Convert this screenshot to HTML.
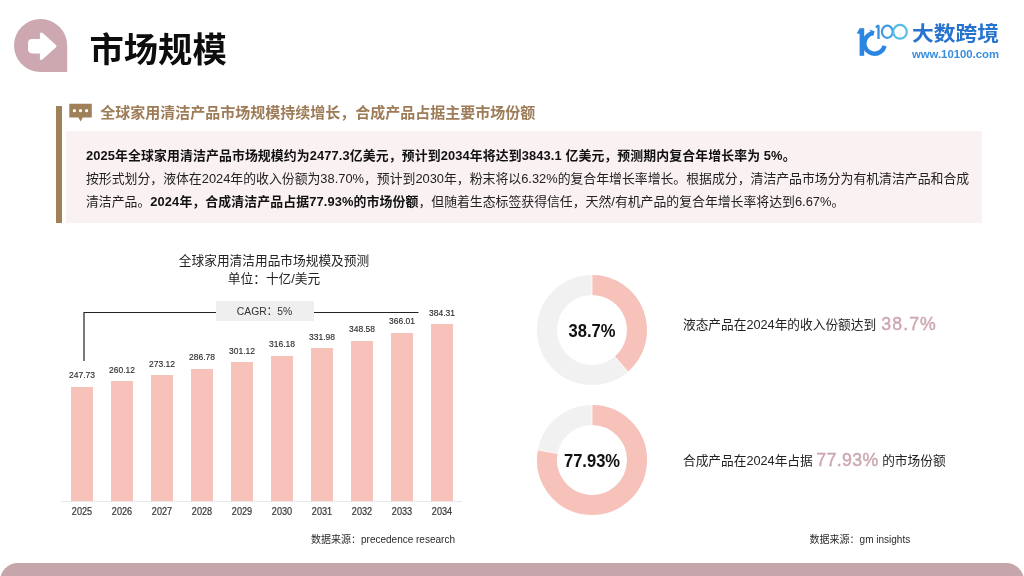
<!DOCTYPE html>
<html lang="zh-CN">
<head>
<meta charset="utf-8">
<title>市场规模</title>
<style>
  html, body { margin: 0; padding: 0; }
  body {
    width: 1024px; height: 576px; overflow: hidden; position: relative;
    background: #ffffff;
    font-family: "Liberation Sans", "Noto Sans CJK SC", sans-serif;
    color: #222;
  }
  .abs { position: absolute; white-space: nowrap; }
  #title { left: 89.5px; top: 25px; font-size: 34.3px; line-height: 50px; font-weight: 700; color: #0d0d0d; letter-spacing: 0px; }
  #bar-left { left: 56px; top: 105.8px; width: 6.2px; height: 116.8px; background: #a08058; }
  #subtitle { left: 100.3px; top: 101px; font-size: 15px; line-height: 24px; font-weight: 700; color: #9d7c57; }
  #box { left: 66px; top: 131px; width: 916px; height: 91.5px; background: #f9f1f2; }
  #box p { position: absolute; left: 20px; margin: 0; font-size: 12.87px; line-height: 23px; white-space: nowrap; color: #222; }
  #box b { font-weight: 700; color: #111; letter-spacing: 0.12px; }
  #chart-title { left: 74px; width: 400px; top: 251.5px; text-align: center; font-size: 12.7px; line-height: 18.3px; color: #222; }
  .bar { position: absolute; width: 22px; background: #f7c2ba; }
  .val { position: absolute; width: 50px; text-align: center; font-size: 9.6px; line-height: 12px; color: #2e2e2e; transform: scaleX(0.885); -webkit-text-stroke: 0.15px #2e2e2e; }
  .yr { position: absolute; width: 50px; text-align: center; font-size: 10.3px; line-height: 12px; top: 505.8px; color: #333; transform: scaleX(0.885); -webkit-text-stroke: 0.2px #333; }
  #cagr { left: 216px; top: 300.5px; width: 97.5px; height: 20.7px; background: #efefef; text-align: center; font-size: 11.8px; line-height: 21.5px; color: #333; }
  #cagr span { display: inline-block; transform: scaleX(0.88); }
  .src { font-size: 10px; line-height: 14px; color: #2a2a2a; }
  .dlabel { font-size: 17.6px; font-weight: 700; color: #111; text-align: center; width: 110px; line-height: 24px; transform: scaleX(0.94); }
  .rtext { font-size: 12.7px; line-height: 24px; color: #222; }
  .hl { font-size: 17.7px; color: #cca7b0; letter-spacing: 0.4px; position: relative; top: 0.8px; -webkit-text-stroke: 0.45px #cca7b0; }
  #band { left: 0; top: 562.6px; width: 1024px; height: 30px; background: #c6a5ab; border-radius: 18px 18px 0 0; }
</style>
</head>
<body>

<!-- title icon -->
<svg class="abs" style="left:13px;top:18px" width="56" height="56" viewBox="0 0 56 56">
  <path d="M27.5 1 A26.5 26.5 0 1 0 27.5 54 L54.2 54 L54.2 27.5 A26.5 26.5 0 0 0 27.5 1 Z" fill="#cda8b0"/>
  <path d="M19.3 22.5 H28.4 V15.9 L42 28.2 L28.4 40.5 V33.9 H19.3 Q16.5 33.9 16.5 31.1 V25.3 Q16.5 22.5 19.3 22.5 Z" fill="#ffffff" stroke="#ffffff" stroke-width="3" stroke-linejoin="round"/>
</svg>
<div id="title" class="abs">市场规模</div>

<!-- logo -->
<svg class="abs" style="left:852px;top:16px" width="160" height="52" viewBox="0 0 160 52">
  <g fill="none" stroke-linecap="butt">
    <path d="M9.9 39.8 V12.4" stroke="#2b86e2" stroke-width="4.6"/>
    <path d="M12.2 12.4 L7.6 12.4 L4.6 17.4 L8.4 17.8 Z" fill="#2b86e2" stroke="none"/>
    <path d="M21.52 17.16 A10.3 10.3 0 1 0 32.59 29.89" stroke="#2b86e2" stroke-width="4.4"/>
    <path d="M17.2 13.6 L22.6 15.2 L21.2 19.6 Z" fill="#2b86e2" stroke="none"/>
    <path d="M23.8 11.2 L26.5 9.6 L26.5 23" stroke="#3a90e0" stroke-width="2.3" stroke-linejoin="bevel"/>
    <ellipse cx="35.3" cy="15.8" rx="5.4" ry="6.1" stroke="#3f9ae2" stroke-width="2.2"/>
    <ellipse cx="48" cy="15.8" rx="6.8" ry="6.9" stroke="#55bde6" stroke-width="2.2"/>
  </g>
  <text x="60" y="25" font-family="'Liberation Sans','Noto Sans CJK SC',sans-serif" font-weight="700" font-size="20.6" fill="#2673d0" textLength="87" lengthAdjust="spacingAndGlyphs">大数跨境</text>
  <text x="60" y="42" font-family="'Liberation Sans','Noto Sans CJK SC',sans-serif" font-weight="700" font-size="11.5" fill="#3a8ddc" textLength="87" lengthAdjust="spacingAndGlyphs">www.10100.com</text>
</svg>

<!-- subtitle -->
<div id="bar-left" class="abs"></div>
<svg class="abs" style="left:69px;top:103px" width="24" height="19" viewBox="0 0 24 19">
  <path d="M0.3 0.8 H22.8 V14.6 H13.8 L11.6 18.5 L9.4 14.6 H0.3 Z" fill="#a08058"/>
  <circle cx="5.4" cy="7.7" r="1.6" fill="#fff"/>
  <circle cx="11.5" cy="7.7" r="1.6" fill="#fff"/>
  <circle cx="17.6" cy="7.7" r="1.6" fill="#fff"/>
</svg>
<div id="subtitle" class="abs">全球家用清洁产品市场规模持续增长，合成产品占据主要市场份额</div>

<!-- text box -->
<div id="box" class="abs">
  <p style="top:12.6px"><b>2025年全球家用清洁产品市场规模约为2477.3亿美元，预计到2034年将达到3843.1 亿美元，预测期内复合年增长率为 5%。</b></p>
  <p style="top:35.9px">按形式划分，液体在2024年的收入份额为38.70%，预计到2030年，粉末将以6.32%的复合年增长率增长。根据成分，清洁产品市场分为有机清洁产品和合成</p>
  <p style="top:58.9px">清洁产品。<b>2024年，合成清洁产品占据77.93%的市场份额</b>，但随着生态标签获得信任，天然/有机产品的复合年增长率将达到6.67%。</p>
</div>

<!-- chart -->
<div id="chart-title" class="abs">全球家用清洁用品市场规模及预测<br>单位：十亿/美元</div>
<div id="chart">
<div class="abs" style="left:61px;top:501px;width:401px;height:1px;background:#e9e9e9"></div>
<svg class="abs" style="left:80px;top:308px" width="345" height="56" viewBox="0 0 345 56"><path d="M4 53 V4.5 H136" fill="none" stroke="#222" stroke-width="1.2"/><path d="M233.5 4.5 H338.5" fill="none" stroke="#222" stroke-width="1.2"/></svg>
<div id="cagr" class="abs"><span>CAGR：5%</span></div>
<div class="bar" style="left:71px;top:387.0px;height:114.0px"></div>
<div class="val" style="left:57px;top:369.4px">247.73</div>
<div class="yr" style="left:57px">2025</div>
<div class="bar" style="left:111px;top:381.3px;height:119.7px"></div>
<div class="val" style="left:97px;top:363.7px">260.12</div>
<div class="yr" style="left:97px">2026</div>
<div class="bar" style="left:151px;top:375.3px;height:125.7px"></div>
<div class="val" style="left:137px;top:357.7px">273.12</div>
<div class="yr" style="left:137px">2027</div>
<div class="bar" style="left:191px;top:369.0px;height:132.0px"></div>
<div class="val" style="left:177px;top:351.4px">286.78</div>
<div class="yr" style="left:177px">2028</div>
<div class="bar" style="left:231px;top:362.4px;height:138.6px"></div>
<div class="val" style="left:217px;top:344.8px">301.12</div>
<div class="yr" style="left:217px">2029</div>
<div class="bar" style="left:271px;top:355.5px;height:145.5px"></div>
<div class="val" style="left:257px;top:337.9px">316.18</div>
<div class="yr" style="left:257px">2030</div>
<div class="bar" style="left:311px;top:348.2px;height:152.8px"></div>
<div class="val" style="left:297px;top:330.6px">331.98</div>
<div class="yr" style="left:297px">2031</div>
<div class="bar" style="left:351px;top:340.5px;height:160.5px"></div>
<div class="val" style="left:337px;top:322.9px">348.58</div>
<div class="yr" style="left:337px">2032</div>
<div class="bar" style="left:391px;top:332.5px;height:168.5px"></div>
<div class="val" style="left:377px;top:314.9px">366.01</div>
<div class="yr" style="left:377px">2033</div>
<div class="bar" style="left:431px;top:324.1px;height:176.9px"></div>
<div class="val" style="left:417px;top:306.5px">384.31</div>
<div class="yr" style="left:417px">2034</div>
<div class="abs src" style="left:311px;top:532.8px">数据来源：precedence research</div>
</div>

<!-- donuts -->
<div id="donuts">
<svg class="abs" style="left:532px;top:270.4px" width="120" height="120" viewBox="0 0 120 120"><circle cx="60" cy="60" r="45" fill="none" stroke="#f1f1f1" stroke-width="20"/><path d="M60.00 15.00 A45 45 0 0 1 89.33 94.13" fill="none" stroke="#f7c2ba" stroke-width="20"/><path d="M60.00 26.00 L60.00 4.00" stroke="#fff" stroke-width="0.8"/><path d="M82.16 85.78 L96.50 102.47" stroke="#fff" stroke-width="0.8"/></svg>
<div class="abs dlabel" style="left:537.3px;top:319px">38.7%</div>
<svg class="abs" style="left:532px;top:400.4px" width="120" height="120" viewBox="0 0 120 120"><circle cx="60" cy="60" r="45" fill="none" stroke="#f1f1f1" stroke-width="20"/><path d="M60.00 15.00 A45 45 0 1 1 15.76 51.76" fill="none" stroke="#f7c2ba" stroke-width="20"/><path d="M60.00 26.00 L60.00 4.00" stroke="#fff" stroke-width="0.8"/><path d="M26.57 53.78 L4.95 49.75" stroke="#fff" stroke-width="0.8"/></svg>
<div class="abs dlabel" style="left:537.4px;top:448.7px">77.93%</div>
<div class="abs rtext" style="left:683px;top:311px">液态产品在2024年的收入份额达到 <span class="hl" style="margin-left:1.6px;letter-spacing:1.1px">38.7%</span></div>
<div class="abs rtext" style="left:683px;top:447px">合成产品在2024年占据 <span class="hl">77.93%</span> 的市场份额</div>
<div class="abs src" style="left:809.6px;top:532.8px">数据来源：gm insights</div>
</div>

<div id="band" class="abs"></div>
</body>
</html>
